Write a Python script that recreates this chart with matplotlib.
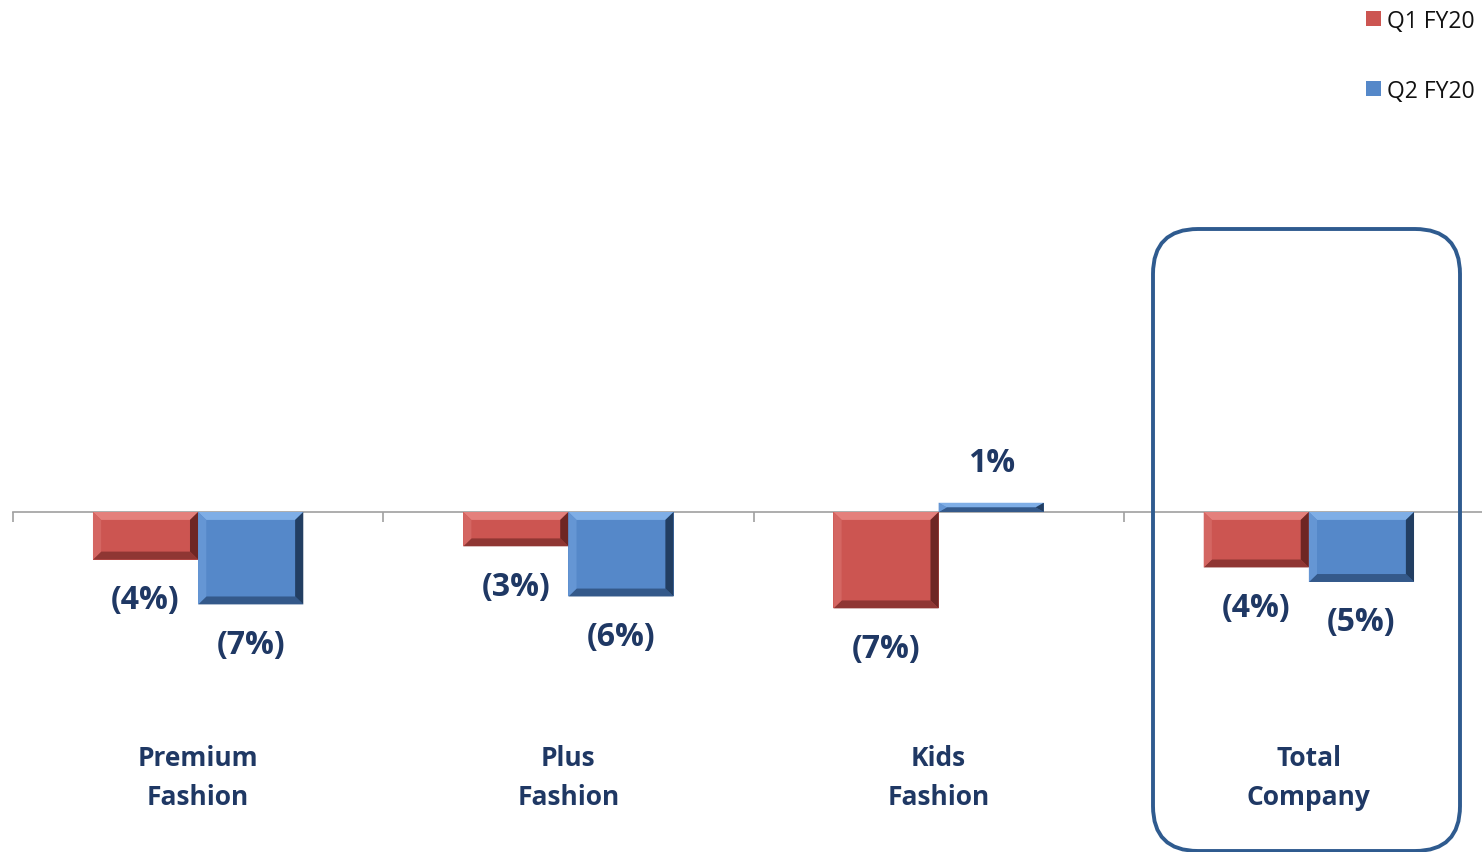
import matplotlib
matplotlib.use("Agg")
import matplotlib.pyplot as plt
from matplotlib.patches import Polygon, FancyBboxPatch

categories = ["Premium\nFashion", "Plus\nFashion", "Kids\nFashion", "Total\nCompany"]
series_names = ["Q1 FY20", "Q2 FY20"]
q1_values = [-3.6, -2.6, -7.3, -4.2]
q2_values = [-7.0, -6.4, 0.7, -5.3]

NAVY = "#1F3864"
BOX = "#2F5B8F"
STYLES = {
    "Q1 FY20": {"face": "#CC5551", "top": "#E4807C", "left": "#D46662",
                "right": "#6E2624", "bottom": "#8F3633"},
    "Q2 FY20": {"face": "#5588C9", "top": "#7FAEE6", "left": "#6596D4",
                "right": "#223E62", "bottom": "#34598A"},
}

plt.rcParams["font.family"] = ["Open Sans", "DejaVu Sans"]

W, H = 1482, 853
PX_PER_UNIT = 13.2
ZERO_PX = 513

fig = plt.figure(figsize=(W / 100, H / 100), dpi=100)
ax = fig.add_axes([13 / W, 0, 1481 / W, 1])
ax.set_xlim(-0.5, 3.5)
ax.set_ylim(-(H - ZERO_PX) / PX_PER_UNIT, ZERO_PX / PX_PER_UNIT)

x = list(range(len(categories)))
width = 0.284


def bevel(ax, patch, style):
    x0 = patch.get_x()
    x1 = x0 + patch.get_width()
    ya = patch.get_y()
    yb = ya + patch.get_height()
    y0, y1 = min(ya, yb), max(ya, yb)
    bx = 0.022
    by = min(0.6, (y1 - y0) / 2)
    shapes = [
        ("top", [(x0, y1), (x1, y1), (x1 - bx, y1 - by), (x0 + bx, y1 - by)]),
        ("bottom", [(x0, y0), (x1, y0), (x1 - bx, y0 + by), (x0 + bx, y0 + by)]),
        ("left", [(x0, y0), (x0, y1), (x0 + bx, y1 - by), (x0 + bx, y0 + by)]),
        ("right", [(x1, y0), (x1, y1), (x1 - bx, y1 - by), (x1 - bx, y0 + by)]),
    ]
    for key, pts in shapes:
        ax.add_patch(Polygon(pts, closed=True, facecolor=style[key],
                             edgecolor="none", zorder=3))


def fmt(v):
    r = round(abs(v))
    return f"({r}%)" if v < 0 else f"{r}%"


containers = []
for offset, name, values in [(-width / 2, series_names[0], q1_values),
                             (width / 2, series_names[1], q2_values)]:
    st = STYLES[name]
    bars = ax.bar([xi + offset for xi in x], values, width=width,
                  color=st["face"], edgecolor="none", zorder=2, label=name)
    containers.append(bars)
    for patch, v in zip(bars.patches, values):
        bevel(ax, patch, st)
        off = 40 / PX_PER_UNIT
        ty = v - off if v < 0 else v + off
        ax.text(patch.get_x() + patch.get_width() / 2, ty, fmt(v),
                ha="center", va="center", fontsize=23,
                fontweight="bold", color=NAVY, zorder=4)

for xi, cat in zip(x, categories):
    ax.text(xi, -(778 - ZERO_PX) / PX_PER_UNIT, cat, ha="center", va="center",
            fontsize=19, fontweight="bold", color=NAVY, linespacing=1.54)

# zero line with category ticks
for s in ["top", "right", "left"]:
    ax.spines[s].set_visible(False)
ax.spines["bottom"].set_position(("data", 0))
ax.spines["bottom"].set_color("#A0A0A0")
ax.spines["bottom"].set_linewidth(1.2)
ax.spines["bottom"].set_zorder(1)
ax.set_xticks([-0.5, 0.5, 1.5, 2.5, 3.5])
ax.set_xticklabels([])
ax.tick_params(axis="x", direction="out", length=7, color="#A0A0A0", width=1.2)
ax.set_yticks([])
ax.patch.set_visible(False)

# highlight box around Total Company
box = FancyBboxPatch((1153 / W, 1 / H), 307 / W, (853 - 230 - 1) / H,
                     boxstyle="round,pad=0,rounding_size=%f" % (45 / W),
                     mutation_aspect=W / H, transform=fig.transFigure,
                     facecolor="none", edgecolor=BOX, linewidth=2.8, zorder=5)
fig.patches.append(box)

leg = ax.legend(handles=containers, labels=series_names, loc="upper right",
                bbox_to_anchor=(1482 / W, 1 - 3 / H), bbox_transform=fig.transFigure,
                frameon=False, fontsize=16.5, labelspacing=2.0, handlelength=0.65,
                handleheight=0.65, handletextpad=0.3, borderaxespad=0.15,
                borderpad=0.15)
for t in leg.get_texts():
    t.set_color("#111111")

fig.savefig("out.png", dpi=100)
